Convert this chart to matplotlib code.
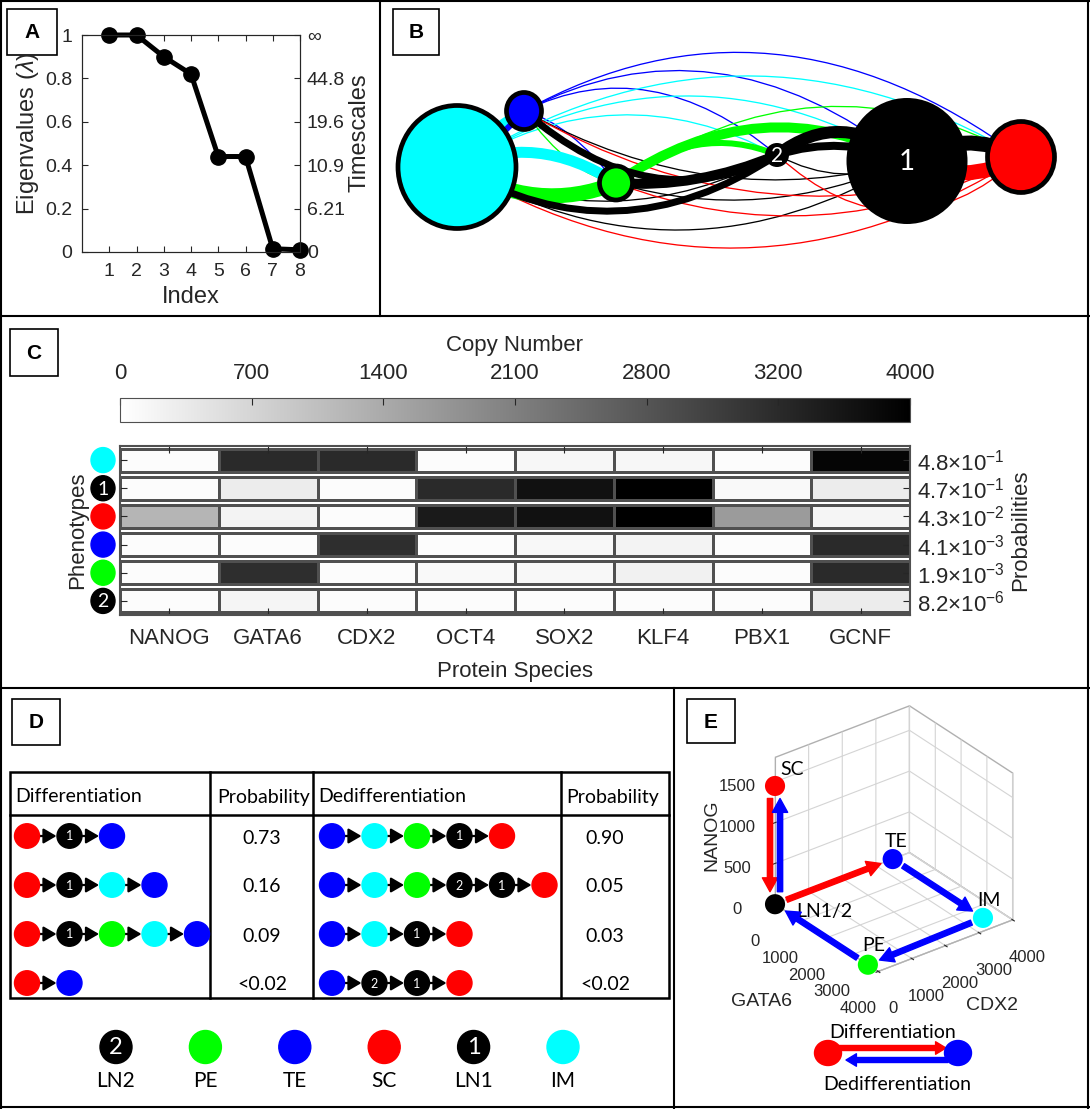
import matplotlib
matplotlib.use('Agg')
import matplotlib.pyplot as plt
import numpy as np
from matplotlib.patches import Ellipse, Rectangle, FancyArrowPatch, PathPatch
from matplotlib.path import Path

plt.rcParams['font.family'] = ['Liberation Sans', 'DejaVu Sans']
plt.rcParams['mathtext.fontset'] = 'custom'
plt.rcParams['mathtext.rm'] = 'Liberation Sans'
plt.rcParams['mathtext.it'] = 'Liberation Sans:italic'

# ---- panel A data
eig_index = [1, 2, 3, 4, 5, 6, 7, 8]
eigenvalues = [1.0, 1.0, 0.9, 0.82, 0.44, 0.44, 0.015, 0.01]
eig_ticks = [0, 0.2, 0.4, 0.6, 0.8, 1]
eig_labels = ['0', '0.2', '0.4', '0.6', '0.8', '1']
timescale_labels = ['0', '6.21', '10.9', '19.6', '44.8', '\u221e']

# ---- panel B data (network)
net_nodes = ['IM', 'TE', 'PE', 'LN2', 'LN1', 'SC']
net_x = [457, 524, 616, 777, 907, 1021]
net_y = [167, 111, 183, 155, 161, 157]
net_w = [118, 35, 33, 24, 121, 67]
net_h = [123, 37, 34, 24, 126, 71]
# (source, target, width in px, bend of the arc in px; negative = upwards)
net_edges = [
    ('TE', 'LN2', 1.3, -42), ('TE', 'LN1', 1.3, -63), ('TE', 'SC', 1.3, -80),
    ('TE', 'PE', 1.3, -12),
    ('IM', 'LN2', 1.3, -46), ('IM', 'LN1', 1.3, -68), ('IM', 'SC', 1.3, -86),
    ('PE', 'SC', 1.3, -63), ('PE', 'TE', 1.3, 14),
    ('LN1', 'PE', 1.3, 27), ('LN1', 'IM', 1.3, 66), ('LN2', 'IM', 1.3, 40),
    ('LN1', 'LN2', 1.3, 16), ('LN1', 'TE', 1.3, 40),
    ('SC', 'PE', 1.3, 45), ('SC', 'IM', 1.3, 86), ('SC', 'LN2', 1.3, 55),
    ('SC', 'TE', 1.3, 60),
    ('IM', 'TE', 9, -6), ('TE', 'IM', 6, 5),
    ('IM', 'PE', 11, -22), ('PE', 'IM', 15, 20),
    ('PE', 'LN2', 6, -24), ('PE', 'LN1', 10, -44),
    ('LN2', 'PE', 10, 10), ('LN2', 'IM', 7, 50), ('LN2', 'TE', 7, 44),
    ('LN2', 'LN1', 12, -26), ('LN1', 'LN2', 8, -12),
    ('LN1', 'SC', 15, -16), ('SC', 'LN1', 15, 14),
]

# ---- panel C data
species = ['NANOG', 'GATA6', 'CDX2', 'OCT4', 'SOX2', 'KLF4', 'PBX1', 'GCNF']
phenotypes = ['IM', 'LN1', 'SC', 'TE', 'PE', 'LN2']
copy_number = [
    [60, 3330, 3330, 60, 140, 140, 60, 3920],
    [60, 310, 60, 3340, 3730, 4000, 100, 310],
    [1160, 200, 60, 3590, 3720, 4000, 1570, 170],
    [60, 60, 3280, 60, 120, 200, 60, 3340],
    [60, 3280, 60, 100, 120, 220, 60, 3340],
    [60, 160, 60, 60, 60, 60, 60, 310],
]
phen_prob = ['4.8\u00d710$^{-1}$', '4.7\u00d710$^{-1}$', '4.3\u00d710$^{-2}$',
             '4.1\u00d710$^{-3}$', '1.9\u00d710$^{-3}$', '8.2\u00d710$^{-6}$']
cb_ticks = [0, 666.7, 1333.3, 2000, 2666.7, 3333.3, 4000]
cb_labels = ['0', '700', '1400', '2100', '2800', '3200', '4000']

# ---- panel D data
diff_paths = [['SC', 'LN1', 'TE'], ['SC', 'LN1', 'IM', 'TE'],
              ['SC', 'LN1', 'PE', 'IM', 'TE'], ['SC', 'TE']]
diff_prob = ['0.73', '0.16', '0.09', '<0.02']
dediff_paths = [['TE', 'IM', 'PE', 'LN1', 'SC'], ['TE', 'IM', 'PE', 'LN2', 'LN1', 'SC'],
                ['TE', 'IM', 'LN1', 'SC'], ['TE', 'LN2', 'LN1', 'SC']]
dediff_prob = ['0.90', '0.05', '0.03', '<0.02']
legend_order = ['LN2', 'PE', 'TE', 'SC', 'LN1', 'IM']

# ---- panel E data
e_names = ['SC', 'LN1/2', 'TE', 'IM', 'PE']
e_gata6 = [0, 0, 0, 3500, 3600]
e_cdx2 = [0, 0, 3500, 3500, 0]
e_nanog = [1450, 0, 0, 0, 0]
e_colors = ['#ff0000', 'black', '#0000ff', '#00ffff', '#00ff00']
e_arrows = [('SC', 'LN1/2', '#ff0000'), ('LN1/2', 'SC', '#0000ff'),
            ('LN1/2', 'TE', '#ff0000'), ('TE', 'IM', '#0000ff'),
            ('IM', 'PE', '#0000ff'), ('PE', 'LN1/2', '#0000ff')]

cell_color = {'SC': '#ff0000', 'TE': '#0000ff', 'IM': '#00ffff', 'PE': '#00ff00',
              'LN1': 'black', 'LN2': 'black'}
cell_num = {'LN1': '1', 'LN2': '2'}

W, H = 1090, 1109
fig = plt.figure(figsize=(W / 100, H / 100), dpi=100)
TXT = '#262626'
CAL = ['Lato', 'DejaVu Sans']


def rect(l, t, r, b):
    return [l / W, 1 - b / H, (r - l) / W, (b - t) / H]


# ================= A
axA = fig.add_axes(rect(82, 35, 300, 252))
axA.plot(eig_index, eigenvalues, color='black', lw=3.6, marker='o', ms=11,
         clip_on=False, zorder=3)
axA.set_xlim(0, 8)
axA.set_ylim(0, 1)
axA.set_xticks(eig_index)
axA.set_yticks(eig_ticks)
axA.set_yticklabels(eig_labels)
axA.tick_params(direction='in', length=4, width=0.8, colors=TXT, labelsize=14, top=True)
axA.tick_params(axis='x', pad=8)
axA.tick_params(axis='y', pad=7)
axA2 = axA.twinx()
axA2.set_ylim(0, 1)
axA2.set_yticks(eig_ticks)
axA2.set_yticklabels(timescale_labels)
axA2.tick_params(direction='in', length=4, width=0.8, colors=TXT, labelsize=14, pad=5)
for a in (axA, axA2):
    for s in a.spines.values():
        s.set_color(TXT)

# ================= C
axC = fig.add_axes(rect(120, 446, 910, 615))
gap = 0.09
for r, row in enumerate(copy_number):
    mesh = axC.pcolormesh(np.arange(len(species) + 1), [r + gap, r + 1 - gap], [row],
                          cmap='gray_r', vmin=0, vmax=4000, edgecolors='#505050',
                          linewidth=1.0)
axC.set_xlim(0, len(species))
axC.set_ylim(len(phenotypes), 0)
axC.set_xticks(np.arange(len(species)) + 0.5)
axC.set_xticklabels(species)
axC.set_yticks(np.arange(len(phenotypes)) + 0.5)
axC.set_yticklabels(phen_prob)
axC.tick_params(direction='in', length=5, width=0.8, colors=TXT, labelsize=16,
                top=True, right=True, left=True, labelleft=False, labelright=True)
axC.tick_params(axis='x', pad=9)
axC.tick_params(axis='y', pad=5)
for s in axC.spines.values():
    s.set_color('#505050')
    s.set_linewidth(1.5)

axCB = fig.add_axes(rect(120, 398, 910, 422))
cb = fig.colorbar(mesh, cax=axCB, orientation='horizontal')
cb.set_ticks(cb_ticks)
cb.set_ticklabels(cb_labels)
axCB.xaxis.set_ticks_position('top')
axCB.tick_params(direction='in', length=5, width=0.8, colors=TXT, labelsize=16, pad=10)
cb.outline.set_edgecolor('#505050')

# ================= E (3d)
axE = fig.add_axes(rect(713, 700, 1067, 985), projection='3d')
axE.set_proj_type('ortho')
axE.view_init(elev=30, azim=-37.5)
axE.set_box_aspect((1, 1, 1))
axE.scatter(e_gata6, e_cdx2, e_nanog, c=e_colors, s=210, depthshade=False,
            edgecolors='none', alpha=1)
axE.set_xlim(0, 4000)
axE.set_ylim(0, 4000)
axE.set_zlim(0, 1800)
axE.set_xticks([0, 1000, 2000, 3000, 4000])
axE.set_yticks([0, 1000, 2000, 3000, 4000])
axE.set_zticks([0, 500, 1000, 1500])
for a in (axE.xaxis, axE.yaxis, axE.zaxis):
    a.set_pane_color((1, 1, 1, 1))
    a.pane.set_edgecolor('#b0b0b0')
    a._axinfo['grid']['color'] = '#d4d4d4'
    a._axinfo['grid']['linewidth'] = 0.8
    a.line.set_color('#b0b0b0')
axE.zaxis.set_ticks_position('lower')
axE.tick_params(labelsize=12, colors=TXT)
axE.tick_params(axis='x', pad=8)
axE.tick_params(axis='y', pad=7)
axE.tick_params(axis='z', pad=9)

# ================= overlay
ov = fig.add_axes([0, 0, 1, 1], zorder=10)
ov.set_xlim(0, W)
ov.set_ylim(H, 0)
ov.axis('off')

# panel frame
for (x0, y0, x1, y1) in [(0, 1, W, 1), (0, H - 2, W, H - 2), (1, 0, 1, H), (W - 2, 0, W - 2, H),
                         (0, 316, W, 316), (0, 688, W, 688), (380, 0, 380, 316), (674, 688, 674, H)]:
    ov.plot([x0, x1], [y0, y1], color='black', lw=1.5)

for letter, (l, t, r, b) in zip('ABCDE', [(7, 9, 57, 55), (393, 9, 439, 55), (10, 329, 58, 376),
                                          (12, 699, 60, 745), (687, 699, 735, 743)]):
    ov.add_patch(Rectangle((l, t), r - l, b - t, fc='white', ec='black', lw=1.2))
    ov.text((l + r) / 2, (t + b) / 2 + 1, letter, ha='center', va='center', fontsize=15,
            fontweight='bold')

# A labels
ov.text(28, 133, 'Eigenvalues ($\\lambda$)', rotation=90, ha='center', va='center',
        fontsize=17, color=TXT)
ov.text(191, 297, 'Index', ha='center', va='center', fontsize=17, color=TXT)
ov.text(359, 133, 'Timescales', rotation=90, ha='center', va='center', fontsize=17, color=TXT)

# B network
pos = {n: (x, y) for n, x, y in zip(net_nodes, net_x, net_y)}
for k, (s, t, wpx, bend) in enumerate(net_edges):
    p0, p1 = pos[s], pos[t]
    ctrl = ((p0[0] + p1[0]) / 2, (p0[1] + p1[1]) / 2 + 2 * bend)
    path = Path([p0, ctrl, p1], [Path.MOVETO, Path.CURVE3, Path.CURVE3])
    ov.add_patch(PathPatch(path, fc='none', ec=cell_color[s], lw=wpx * 0.72,
                           capstyle='butt', zorder=2 + (wpx > 2)))
for n, x, y, w, h in zip(net_nodes, net_x, net_y, net_w, net_h):
    bord = 3.4 if n not in cell_num else 0
    ov.add_patch(Ellipse((x, y), w, h, fc=cell_color[n], ec='black', lw=bord, zorder=5))
    if n in cell_num:
        ov.text(x, y + 1, cell_num[n], color='white', ha='center', va='center',
                fontsize=20 if n == 'LN1' else 15, family=CAL, zorder=6)

# C extra labels
ov.text(515, 345, 'Copy Number', ha='center', va='center', fontsize=16, color=TXT)
ov.text(515, 671, 'Protein Species', ha='center', va='center', fontsize=16, color=TXT)
ov.text(78, 530, 'Phenotypes', rotation=90, ha='center', va='center', fontsize=16, color=TXT)
ov.text(1021, 530, 'Probabilities', rotation=90, ha='center', va='center', fontsize=16,
        color=TXT)
row_h = (615 - 446) / len(phenotypes)
for r, ph in enumerate(phenotypes):
    yc = 446 + (r + 0.5) * row_h
    ov.add_patch(Ellipse((103, yc), 24, 25, color=cell_color[ph], zorder=5))
    if ph in cell_num:
        ov.text(103, yc + 1, cell_num[ph], color='white', ha='center', va='center',
                fontsize=14, family=CAL, zorder=6)


# D table
def draw_cell(x, y, name, w, h, fs):
    ov.add_patch(Ellipse((x, y), w, h, color=cell_color[name], zorder=5))
    if name in cell_num:
        ov.text(x, y + 0.5, cell_num[name], color='white', ha='center', va='center',
                fontsize=fs, family=CAL, zorder=6)


ov.add_patch(Rectangle((10, 772), 659, 226, fc='none', ec='black', lw=1.8))
ov.plot([10, 669], [815, 815], color='black', lw=1.8)
for xc in (210, 313, 561):
    ov.plot([xc, xc], [772, 998], color='black', lw=1.8)
for xt, s in [(15, 'Differentiation'), (217, 'Probability'), (318, 'Dedifferentiation'),
              (566, 'Probability')]:
    ov.text(xt, 797, s, ha='left', va='center', fontsize=14, family=CAL)

row_y = [836, 885, 934, 983]
step = 42.5
for paths, probs, x0, xp in [(diff_paths, diff_prob, 27, 262), (dediff_paths, dediff_prob, 332, 605)]:
    for y, chain, pr in zip(row_y, paths, probs):
        for i, name in enumerate(chain):
            xc = x0 + i * step
            draw_cell(xc, y, name, 25, 24.5, 9)
            if i < len(chain) - 1:
                ov.add_patch(FancyArrowPatch((xc + 13, y), (xc + step - 13, y),
                                             arrowstyle='-|>,head_length=0.6,head_width=0.35',
                                             mutation_scale=13, lw=1.6, color='black',
                                             shrinkA=0, shrinkB=0, zorder=4))
        ov.text(xp, y + 2, pr, ha='center', va='center', fontsize=14, family=CAL)

for i, name in enumerate(legend_order):
    xc = 116 + i * 89.4
    draw_cell(xc, 1047, name, 32, 33, 17)
    ov.text(xc, 1081, name, ha='center', va='center', fontsize=15, family=CAL)

# E legend
ov.add_patch(Ellipse((828, 1053), 27, 25, color='#ff0000', zorder=5))
ov.add_patch(Ellipse((958, 1053), 27, 25, color='#0000ff', zorder=5))
ov.add_patch(FancyArrowPatch((838, 1048), (946, 1048),
                             arrowstyle='simple,head_width=0.9,head_length=0.75,tail_width=0.36',
                             mutation_scale=10, color='#ff0000', shrinkA=0, shrinkB=0, zorder=4))
ov.add_patch(FancyArrowPatch((948, 1060), (846, 1060),
                             arrowstyle='simple,head_width=0.9,head_length=0.75,tail_width=0.36',
                             mutation_scale=10, color='#0000ff', shrinkA=0, shrinkB=0, zorder=4))
ov.text(893, 1032, 'Differentiation', ha='center', va='center', fontsize=14, family=CAL)
ov.text(897, 1085, 'Dedifferentiation', ha='center', va='center', fontsize=14, family=CAL)
ov.text(762, 1002, 'GATA6', ha='center', va='center', fontsize=14, color=TXT)
ov.text(992, 1005, 'CDX2', ha='center', va='center', fontsize=14, color=TXT)
ov.text(712, 835, 'NANOG', rotation=90, ha='center', va='center', fontsize=14, color=TXT)

# project 3d points to pixels for arrows and labels
fig.canvas.draw()
M = axE.M
proj = {}
for n, gx, cx, nz in zip(e_names, e_gata6, e_cdx2, e_nanog):
    v = M @ np.array([gx, cx, nz, 1.0])
    dx, dy = axE.transData.transform((v[0] / v[3], v[1] / v[3]))
    proj[n] = np.array([dx, H - dy])

for s, t, col in e_arrows:
    a, b = proj[s], proj[t]
    u = (b - a) / np.hypot(*(b - a))
    nrm = np.array([-u[1], u[0]])
    off = 5 * nrm if {s, t} == {'SC', 'LN1/2'} else 0 * nrm
    ov.add_patch(FancyArrowPatch(tuple(a + off), tuple(b + off),
                                 arrowstyle='simple,head_width=1.1,head_length=1.0,tail_width=0.38',
                                 mutation_scale=10, color=col, shrinkA=9, shrinkB=9, zorder=4))

for n, (dx, dy, ha) in zip(e_names, [(5, -16, 'left'), (21, 7, 'left'), (3, -18, 'center'),
                                      (6, -17, 'center'), (6, -19, 'center')]):
    ov.text(proj[n][0] + dx, proj[n][1] + dy, n, ha=ha, va='center', fontsize=14, family=CAL)

fig.savefig('out.png', dpi=100)
